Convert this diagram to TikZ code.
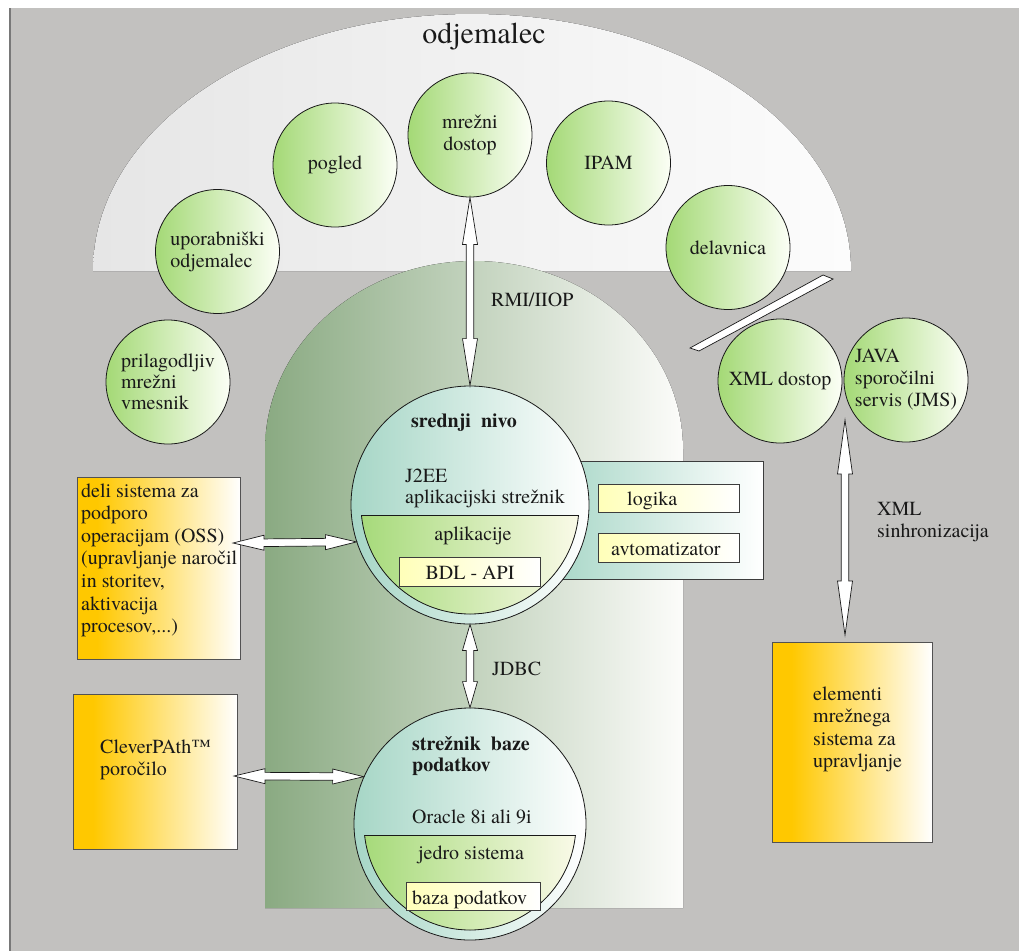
\documentclass[tikz,border=0pt]{standalone}
\usepackage{fontspec}
\setmainfont{texgyretermes}[Extension=.otf, UprightFont=*-regular, BoldFont=*-bold, ItalicFont=*-italic, BoldItalicFont=*-bolditalic]
\newfontfamily\labelface{texgyretermes}[Extension=.otf, UprightFont=*-regular, BoldFont=*-bold, ItalicFont=*-italic, BoldItalicFont=*-bolditalic]
\usetikzlibrary{calc}

\definecolor{bggray}{RGB}{194,193,191}
\definecolor{edgegray}{RGB}{120,120,120}
\definecolor{domeL}{RGB}{230,230,230}
\definecolor{domeR}{RGB}{252,252,252}
\definecolor{tierL}{RGB}{138,170,130}
\definecolor{tierR}{RGB}{252,252,250}
\definecolor{leafL}{RGB}{164,217,118}
\definecolor{leafR}{RGB}{252,255,246}
\definecolor{tealL}{RGB}{166,214,198}
\definecolor{coreL}{RGB}{166,218,122}
\definecolor{coreR}{RGB}{250,250,232}
\definecolor{noteL}{RGB}{255,255,185}
\definecolor{amber}{RGB}{255,200,0}
\definecolor{ink}{RGB}{25,25,25}

\pgfdeclarehorizontalshading{amberfade}{100bp}{color(0bp)=(amber); color(31bp)=(amber); color(75bp)=(white); color(100bp)=(white)}

% hollow double-headed block arrow between two points, #1 = head length
\newcommand{\blockarrow}[3][30]{%
  \coordinate (bahA) at ($(#2)!#1pt!(#3)$);
  \coordinate (bahB) at ($(#3)!#1pt!(#2)$);
  \filldraw[arrowbody] (#2)
    -- ($(bahA)!7.5pt!90:(#3)$) -- ($(bahA)!3.8pt!90:(#3)$)
    -- ($(bahB)!3.8pt!-90:(#2)$) -- ($(bahB)!7.5pt!-90:(#2)$)
    -- (#3)
    -- ($(bahB)!7.5pt!90:(#2)$) -- ($(bahB)!3.8pt!90:(#2)$)
    -- ($(bahA)!3.8pt!-90:(#3)$) -- ($(bahA)!7.5pt!-90:(#3)$)
    -- cycle;
}
% left-aligned block of lines whose base is the first baseline
\newcommand{\textlines}[2][22.6]{\parbox[t]{300pt}{\labelface\fontsize{20}{#1}\selectfont\raggedright #2}}

\begin{document}
\labelface
\begin{tikzpicture}[x=1pt,y=-1pt,
  txt/.style={inner sep=0pt, text=ink, font=\labelface\fontsize{20}{22}\selectfont},
  leaf/.style={circle, draw=ink, line width=0.8pt, left color=leafL, right color=leafR,
    minimum size=124pt, inner sep=0pt, text=ink, font=\labelface\fontsize{20}{22}\selectfont},
  tier/.style={circle, draw=ink, line width=0.8pt, left color=tealL, right color=white, inner sep=0pt},
  notebox/.style={draw=ink!85, line width=0.7pt, left color=noteL, right color=white,
    inner sep=0pt, anchor=north west},
  amberbox/.style={draw=ink!75, line width=0.7pt, shading=amberfade, inner sep=0pt, anchor=north west},
  arrowbody/.style={fill=white, draw=ink, line width=0.7pt, line join=miter},
]
\useasboundingbox (0,0) rectangle (1019,951);
\fill[white] (0,0) rectangle (1019,951);
\fill[bggray] (10,8) rectangle (1019,951);
\fill[edgegray] (9,8) rectangle (11,951);

% client dome
\fill[left color=domeL, right color=domeR] (93,271) .. controls (93,129) and (262.1,14) .. (472,14)
  .. controls (681.9,14) and (851,129) .. (851,271) -- cycle;
\node[txt, font=\labelface\fontsize{30}{32}\selectfont, anchor=base] (title) at (484,43) {odjemalec};

% middle tier backdrop
\fill[left color=tierL, right color=tierR] (265,908) -- (265,450)
  .. controls (265,345.6) and (358.6,261) .. (474,261)
  .. controls (589.4,261) and (683,345.6) .. (683,450) -- (683,908) -- cycle;

% client components
\node[leaf, align=left] (user) at (217.5,251.5) {uporabniški\\odjemalec};
\node[leaf] (view) at (335,165) {pogled};
\node[leaf, align=center] (web) at (470,135) {mrežni\\dostop};
\node[leaf] (ipam) at (608.5,163) {IPAM};
\node[leaf] (shop) at (728,247.5) {delavnica};
\node[leaf, align=left, font=\labelface\fontsize{20}{21}\selectfont] (adapter) at (168,382) {prilagodljiv\\mrežni\\vmesnik};
\node[leaf] (xmlacc) at (780,381) {XML dostop};
\node[leaf, align=left] (jms) at (906,380) {JAVA\\sporočilni\\servis (JMS)};

% divider bar
\filldraw[fill=white, draw=ink, line width=0.7pt] (690,348) -- (823,275) -- (833,279) -- (699,351) -- cycle;

% application server with its side panel
\node[draw=ink!85, line width=0.7pt, left color=tealL, right color=white, inner sep=0pt,
  anchor=north west, minimum width=215pt, minimum height=118pt] (panel) at (548,461) {};
\node[tier, minimum size=238pt] (mid) at (470,505) {};
\begin{scope}
  \clip (mid.center) circle (109);
  \fill[left color=coreL, right color=coreR] (361,515) rectangle (579,620);
\end{scope}
\draw[ink, line width=0.8pt] (361.5,515) -- (578.5,515);
\begin{scope}
  \clip (300,515) rectangle (640,640);
  \draw[ink, line width=0.8pt] (mid.center) circle (109);
\end{scope}
\node[txt, anchor=base west, font=\labelface\fontsize{20}{22}\selectfont\bfseries] (midtitle) at (411,427) {srednji\ \ nivo};
\node[txt, anchor=base west] (j2ee) at (405,482) {J2EE};
\node[txt, anchor=base west] (appsrv) at (405,503) {aplikacijski strežnik};
\node[txt, anchor=base] (apps) at (473,540) {aplikacije};
\node[notebox, minimum width=141pt, minimum height=29pt] (bdl) at (399,557) {};
\node[txt, anchor=base] (bdltext) at (470,579) {BDL - API};
\node[notebox, minimum width=141pt, minimum height=28pt] (logic) at (598,484) {};
\node[txt, anchor=base west] (logictext) at (627,505) {logika};
\node[notebox, minimum width=141pt, minimum height=29pt] (robot) at (598,533) {};
\node[txt, anchor=base west] (robottext) at (611,555) {avtomatizator};

% RMI/IIOP link
\blockarrow[47]{web.south}{mid.north}
\node[txt, anchor=base west] (rmi) at (491,306) {RMI/IIOP};

% database server
\node[tier, minimum size=232pt] (db) at (470,824) {};
\begin{scope}
  \clip (db.center) circle (106);
  \fill[left color=coreL, right color=coreR] (364,835) rectangle (577,935);
\end{scope}
\draw[ink, line width=0.8pt] (364.6,835) -- (575.4,835);
\begin{scope}
  \clip (300,835) rectangle (640,951);
  \draw[ink, line width=0.8pt] (db.center) circle (106);
\end{scope}
\node[txt, anchor=base west] (dbtitle) at (412,750) {\textlines[21]{\bfseries strežnik\ \ baze\\podatkov}};
\node[txt, anchor=base west] (oracle) at (412,823) {Oracle 8i ali 9i};
\node[txt, anchor=base] (kernel) at (471,859) {jedro sistema};
\node[notebox, minimum width=134pt, minimum height=28pt] (store) at (406,882) {};
\node[txt, anchor=base west] (storetext) at (412,904) {baza podatkov};

\blockarrow[26]{mid.south}{db.north}
\node[txt, anchor=base west] (jdbc) at (492,675) {JDBC};

% external systems
\node[amberbox, minimum width=163pt, minimum height=182pt] (oss) at (77,477) {};
\node[txt, anchor=base west] (osstext) at (81,497) {\textlines{deli sistema za\\podporo\\operacijam (OSS)\\(upravljanje naročil\\in storitev,\\aktivacija\\procesov,...)}};
\coordinate (ossTip) at (233,543);
\blockarrow[31]{ossTip}{mid.198}

\node[amberbox, minimum width=164pt, minimum height=155pt] (clever) at (73,694) {};
\node[txt, anchor=base west] (clevertext) at (100,753) {\textlines[22]{CleverPAth™\\poročilo}};
\coordinate (cleverTip) at (234,776);
\blockarrow[31]{cleverTip}{db.156}

\node[amberbox, minimum width=160pt, minimum height=200pt] (elem) at (772,642) {};
\node[txt, anchor=base west] (elemtext) at (813,700) {\textlines[22.5]{elementi\\mrežnega\\sistema za\\upravljanje}};

\coordinate (syncTop) at (845,420);
\coordinate (syncBot) at (845,635);
\blockarrow[54]{syncTop}{syncBot}
\node[txt, anchor=base west] (synctext) at (877,515) {\textlines[22]{XML\\sinhronizacija}};
\end{tikzpicture}
\end{document}
